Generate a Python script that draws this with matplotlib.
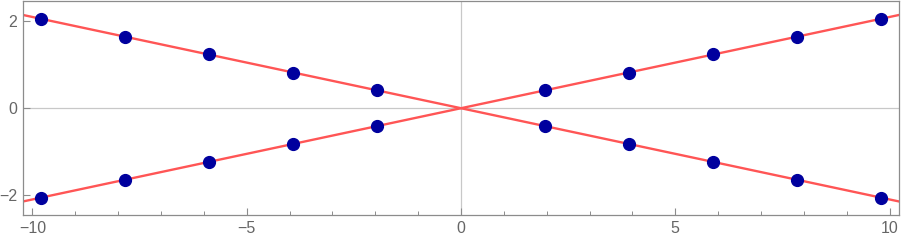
import matplotlib
matplotlib.use("Agg")
import matplotlib.pyplot as plt
from matplotlib.ticker import MultipleLocator

# sample points
pts_x = [-9.8, -7.84, -5.88, -3.92, -1.96, 1.96, 3.92, 5.88, 7.84, 9.8]
pts_up = [-2.06, -1.65, -1.24, -0.82, -0.41, 0.41, 0.82, 1.24, 1.65, 2.06]
pts_down = [2.06, 1.65, 1.24, 0.82, 0.41, -0.41, -0.82, -1.24, -1.65, -2.06]

# fitted lines (endpoints across the plot)
line_x = [-10.3, 10.3]
line_up = [-2.165, 2.165]
line_down = [2.165, -2.165]

x_ticks = [-10, -5, 0, 5, 10]
y_ticks = [-2, 0, 2]

plt.rcParams['font.family'] = ['Liberation Sans', 'DejaVu Sans']

fig = plt.figure(figsize=(9.02, 2.43), dpi=100)
ax = fig.add_axes([23/902, 28/243, 876/902, 214/243])

frame_col = '#8c8c8c'
ax.axhline(0, color='#c8c8c8', lw=0.9, zorder=1)
ax.axvline(0, color='#c8c8c8', lw=0.9, zorder=1)

ax.plot(line_x, line_up, color='#ff5555', lw=1.7, zorder=2)
ax.plot(line_x, line_down, color='#ff5555', lw=1.7, zorder=2)
ax.plot(pts_x, pts_up, 'o', color='#00009e', ms=8.5, zorder=3)
ax.plot(pts_x, pts_down, 'o', color='#00009e', ms=8.5, zorder=3)

ax.set_xlim(-10.22, 10.22)
ax.set_ylim(-2.46, 2.47)
ax.set_xticks(x_ticks)
ax.set_yticks(y_ticks)
ax.set_xticklabels(['\u221210', '\u22125', '0', '5', '10'])
ax.set_yticklabels(['\u22122', '0', '2'])
ax.xaxis.set_minor_locator(MultipleLocator(1))

for s in ax.spines.values():
    s.set_color(frame_col)
    s.set_linewidth(0.9)

ax.tick_params(which='major', direction='in', length=5, width=0.8,
               color=frame_col, labelcolor='#666666', labelsize=11.5, pad=4)
ax.tick_params(which='minor', direction='in', length=3, width=0.7, color=frame_col)
ax.tick_params(axis='x', which='both', top=False)
ax.tick_params(axis='y', which='both', right=False)

fig.savefig('out.png', dpi=100)
